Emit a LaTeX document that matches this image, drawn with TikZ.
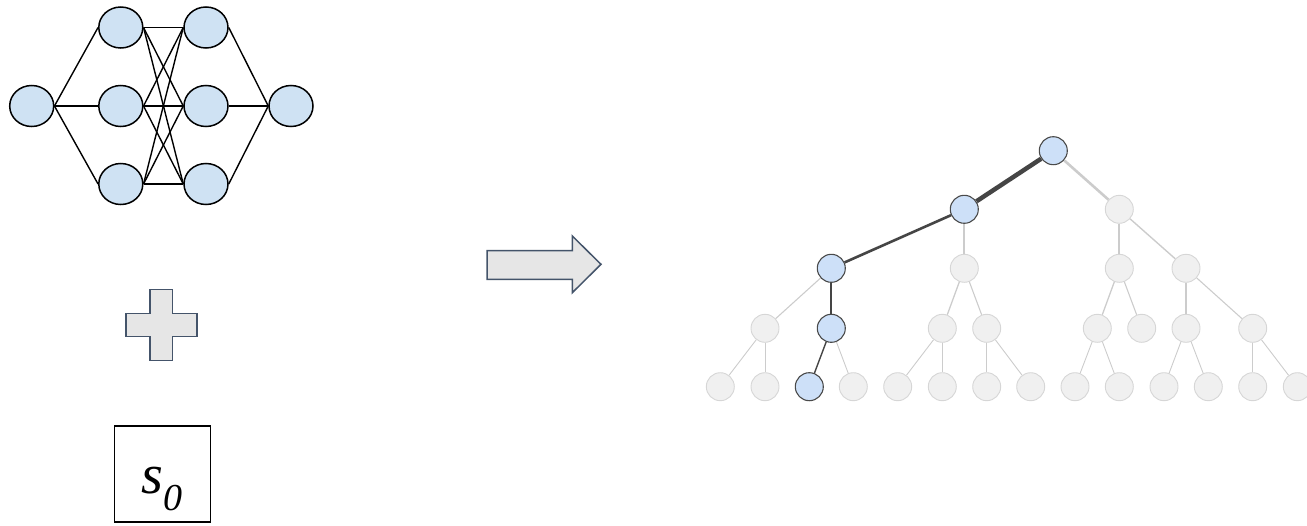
\documentclass[tikz,border=0pt]{standalone}
\usepackage{fontspec}
\setmainfont{Liberation Serif}
\definecolor{nnfill}{HTML}{CFE2F3}
\definecolor{tblue}{HTML}{CDE0F8}
\definecolor{tbluedraw}{HTML}{4A4A4A}
\definecolor{gfill}{HTML}{F0F0F0}
\definecolor{gdraw}{HTML}{D6D6D6}
\definecolor{gline}{HTML}{CCCCCC}
\definecolor{dline}{HTML}{454545}
\definecolor{shapefill}{HTML}{E6E6E6}
\definecolor{shapedraw}{HTML}{44546A}
\tikzset{
  nn/.style={ellipse, draw=black, fill=nnfill, line width=1.5pt, minimum width=44pt, minimum height=41pt, inner sep=0},
  nnedge/.style={draw=black, line width=1.4pt},
  bnode/.style={circle, draw=tbluedraw, fill=tblue, line width=1.1pt, minimum size=28pt, inner sep=0},
  gnode/.style={circle, draw=gdraw, fill=gfill, line width=0.9pt, minimum size=28pt, inner sep=0},
  dk/.style={draw=dline, line width=#1},
  gy/.style={draw=gline, line width=#1},
  shp/.style={draw=shapedraw, fill=shapefill, line width=1.5pt, line join=miter},
  boxst/.style={draw=black, line width=1.3pt, minimum width=96pt, minimum height=96pt, inner sep=0}
}
\usetikzlibrary{shapes.geometric}
\begin{document}
\begin{tikzpicture}[x=1pt,y=-1pt]
\useasboundingbox (0,0) rectangle (1307,525);
\clip (0,0) rectangle (1307,525);
% neural network
\node[nn] (in) at (31.7,106) {};
\node[nn] (h11) at (120.8,27.5) {};
\node[nn] (h12) at (120.8,106) {};
\node[nn] (h13) at (120.8,184) {};
\node[nn] (h21) at (206,27.5) {};
\node[nn] (h22) at (206,106) {};
\node[nn] (h23) at (206,184) {};
\node[nn] (out) at (291,106) {};
\foreach \h in {h11,h12,h13} \draw[nnedge] (in.east) -- (\h.west);
\foreach \a in {h11,h12,h13} \foreach \b in {h21,h22,h23} \draw[nnedge] (\a.east) -- (\b.west);
\foreach \h in {h21,h22,h23} \draw[nnedge] (\h.east) -- (out.west);
% plus
\draw[shp] (150,289.5) -- (172.7,289.5) -- (172.7,313.3) -- (197,313.3) -- (197,336.7) -- (172.7,336.7) -- (172.7,360.5) -- (150,360.5) -- (150,336.7) -- (126,336.7) -- (126,313.3) -- (150,313.3) -- cycle;
% box with s0
\node[boxst] (box) at (162.2,474) {};
\node[anchor=base west, inner sep=0] (s0) at (141.5,493) {\fontsize{56}{56}\selectfont\itshape s\kern0.5pt\raisebox{-17.7pt}{\fontsize{38}{38}\selectfont 0}};
% big arrow
\draw[shp] (487,250.7) -- (572.3,250.7) -- (572.3,236) -- (601,264.3) -- (572.3,292.7) -- (572.3,279.3) -- (487,279.3) -- cycle;
% tree nodes
\node[bnode] (r) at (1053.3,150.7) {};
\node[bnode] (a1) at (964.3,209.3) {};
\node[gnode] (a2) at (1119.3,209.3) {};
\node[bnode] (b1) at (831.3,268.3) {};
\node[gnode] (b2) at (964.3,268.3) {};
\node[gnode] (b3) at (1119.3,268.3) {};
\node[gnode] (b4) at (1186,268.3) {};
\node[gnode] (c1) at (765,328.3) {};
\node[bnode] (c2) at (831.3,328.3) {};
\node[gnode] (c3) at (942.3,328.3) {};
\node[gnode] (c4) at (986.7,328.3) {};
\node[gnode] (c5) at (1097.3,328.3) {};
\node[gnode] (c6) at (1141.7,328.3) {};
\node[gnode] (c7) at (1186,328.3) {};
\node[gnode] (c8) at (1252.7,328.3) {};
\node[gnode] (d1) at (720.3,386.7) {};
\node[gnode] (d2) at (765,386.7) {};
\node[bnode] (d3) at (809.3,386.7) {};
\node[gnode] (d4) at (853.3,386.7) {};
\node[gnode] (d5) at (897.7,386.7) {};
\node[gnode] (d6) at (942.3,386.7) {};
\node[gnode] (d7) at (986.7,386.7) {};
\node[gnode] (d8) at (1030.7,386.7) {};
\node[gnode] (d9) at (1075,386.7) {};
\node[gnode] (d10) at (1119.3,386.7) {};
\node[gnode] (d11) at (1164,386.7) {};
\node[gnode] (d12) at (1208.3,386.7) {};
\node[gnode] (d13) at (1252.7,386.7) {};
\node[gnode] (d14) at (1297.3,386.7) {};
% tree edges
\draw[dk=4.5pt] (r) -- (a1);
\draw[gy=2.6pt] (r) -- (a2);
\draw[dk=2.6pt] (a1) -- (b1);
\draw[gy=2.2pt] (a1) -- (b2);
\draw[gy=1.9pt] (a2) -- (b3);
\draw[gy=1.4pt] (a2) -- (b4);
\draw[gy=1.1pt] (b1) -- (c1);
\draw[dk=1.7pt] (b1) -- (c2);
\draw[gy=1.3pt] (b2) -- (c3);
\draw[gy=1.1pt] (b2) -- (c4);
\draw[gy=1.3pt] (b3) -- (c5);
\draw[gy=1.1pt] (b3) -- (c6);
\draw[gy=1.1pt] (b4) -- (c7);
\draw[gy=1.1pt] (b4) -- (c8);
\draw[gy=0.9pt] (c1) -- (d1);
\draw[gy=0.9pt] (c1) -- (d2);
\draw[dk=1.4pt] (c2) -- (d3);
\draw[gy=0.9pt] (c2) -- (d4);
\draw[gy=0.9pt] (c3) -- (d5);
\draw[gy=0.9pt] (c3) -- (d6);
\draw[gy=0.9pt] (c4) -- (d7);
\draw[gy=0.9pt] (c4) -- (d8);
\draw[gy=0.9pt] (c5) -- (d9);
\draw[gy=0.9pt] (c5) -- (d10);
\draw[gy=0.9pt] (c7) -- (d11);
\draw[gy=0.9pt] (c7) -- (d12);
\draw[gy=0.9pt] (c8) -- (d13);
\draw[gy=0.9pt] (c8) -- (d14);
\end{tikzpicture}
\end{document}
